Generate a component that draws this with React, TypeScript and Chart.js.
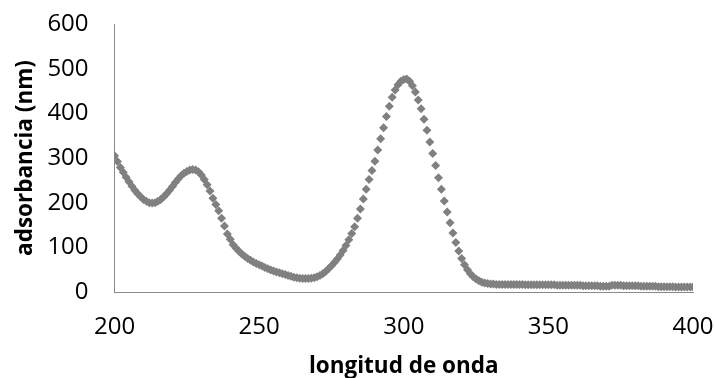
import React, { useEffect, useRef } from "react";
import { Chart, registerables } from "chart.js";

Chart.register(...registerables);

const wavelengths: number[] = [];
for (let w = 200; w <= 400; w++) wavelengths.push(w);

const absorbance: number[] = [
  // 200-209
  305, 292, 279, 268, 257, 247, 237, 228, 220, 213,
  // 210-219
  207, 203, 200, 199, 200, 203, 207, 213, 220, 228,
  // 220-229
  236, 245, 253, 260, 266, 270, 273, 274, 273, 269,
  // 230-239
  262, 252, 240, 226, 210, 196, 182, 165, 148, 130,
  // 240-249
  118, 106, 98, 91, 85, 80, 75, 71, 67, 64,
  // 250-259
  61, 58, 55, 52, 49, 47, 45, 43, 41, 39,
  // 260-269
  37, 35, 33, 32, 31, 30, 30, 30, 31, 32,
  // 270-279
  34, 37, 41, 46, 52, 59, 66, 74, 83, 93,
  // 280-289
  104, 117, 131, 146, 165, 186, 208, 230, 252, 272,
  // 290-299
  293, 318, 343, 368, 393, 416, 436, 452, 464, 472,
  // 300-309
  476, 477, 472, 462, 448, 430, 410, 387, 362, 336,
  // 310-319
  310, 283, 256, 230, 204, 179, 155, 132, 111, 92,
  // 320-329
  75, 61, 50, 41, 34, 29, 25, 22, 20, 19,
  // 330-339
  18, 18, 17, 17, 17, 17, 17, 17, 17, 17,
  // 340-349
  17, 17, 16, 16, 16, 16, 16, 16, 16, 16,
  // 350-359
  16, 16, 16, 15, 15, 15, 15, 15, 15, 15,
  // 360-369
  15, 15, 14, 14, 14, 14, 14, 14, 13, 13,
  // 370-379
  13, 13, 15, 15, 15, 15, 14, 14, 14, 14,
  // 380-389
  14, 14, 13, 13, 13, 13, 13, 13, 12, 12,
  // 390-399
  12, 12, 12, 12, 11, 11, 11, 11, 11, 11,
  // 400
  11,
];

const xTitle = "longitud de onda";
const yTitle = "adsorbancia (nm)";

export default function App() {
  const ref = useRef<HTMLCanvasElement | null>(null);

  useEffect(() => {
    if (!ref.current) return;
    const family = "'Open Sans', Lato, sans-serif";
    const zeroPad = (scale: any) => {
      scale.paddingLeft = 0;
      scale.paddingRight = 0;
      scale.paddingTop = 0;
      scale.paddingBottom = 0;
    };
    const chart = new Chart(ref.current, {
      type: "scatter",
      data: {
        datasets: [
          {
            data: wavelengths.map((w, i) => ({ x: w, y: absorbance[i] })),
            pointStyle: "rectRot",
            pointRadius: 4.5,
            backgroundColor: "#808080",
            borderColor: "#808080",
            borderWidth: 0,
          },
        ],
      },
      options: {
        responsive: false,
        animation: false,
        layout: { padding: { top: 24, right: 22, left: 12, bottom: 0 } },
        plugins: { legend: { display: false }, tooltip: { enabled: false } },
        scales: {
          x: {
            type: "linear",
            min: 200,
            max: 400,
            afterFit: zeroPad,
            grid: { display: false, drawTicks: false },
            border: { display: true, color: "#898989", width: 1 },
            ticks: {
              stepSize: 50,
              padding: 21,
              color: "#000",
              font: { family, size: 24 },
            },
            title: {
              display: true,
              text: xTitle,
              color: "#000",
              font: { family, size: 22.5, weight: "bold" },
              padding: { top: -9.8, bottom: -2 },
            },
          },
          y: {
            min: 0,
            max: 600,
            afterFit: zeroPad,
            grid: { display: false, drawTicks: false },
            border: { display: true, color: "#898989", width: 1 },
            ticks: {
              stepSize: 100,
              padding: 26,
              color: "#000",
              font: { family, size: 24 },
            },
            title: {
              display: true,
              text: yTitle,
              color: "#000",
              font: { family, size: 22.5, weight: "bold" },
              padding: { top: 0, bottom: -17.6 },
            },
          },
        },
      },
    });
    return () => chart.destroy();
  }, []);

  return (
    <div style={{ position: "fixed", left: 0, top: 0, width: 715, height: 378, background: "#fff" }}>
      <canvas ref={ref} width={715} height={378} />
    </div>
  );
}
